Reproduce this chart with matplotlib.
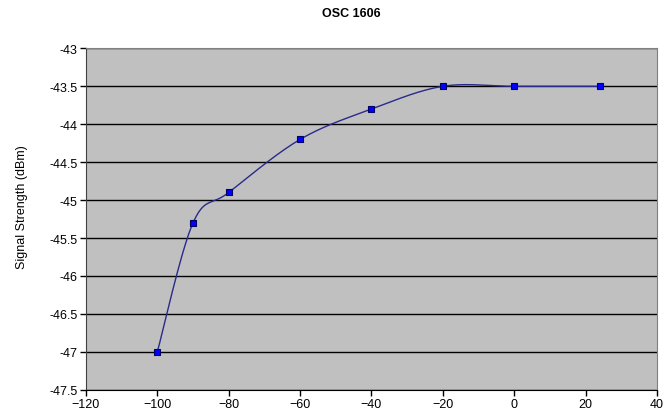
import numpy as np
import matplotlib
matplotlib.use("Agg")
import matplotlib.pyplot as plt

plt.rcParams['font.family'] = ['Liberation Sans', 'DejaVu Sans']

# measurements
offset = [-100, -90, -80, -60, -40, -20, 0, 24]
strength = [-47.0, -45.3, -44.9, -44.2, -43.8, -43.5, -43.5, -43.5]

x_ticks = [-120, -100, -80, -60, -40, -20, 0, 20, 40]
y_ticks = [-47.5, -47, -46.5, -46, -45.5, -45, -44.5, -44, -43.5, -43]


def smooth(xs, ys, n=40):
    # bezier smoothing like a spreadsheet "smoothed line"
    p = np.column_stack([xs, ys]).astype(float)
    out = []
    for i in range(len(p) - 1):
        p0 = p[i - 1] if i > 0 else p[i]
        p1 = p[i]
        p2 = p[i + 1]
        p3 = p[i + 2] if i + 2 < len(p) else p[i + 1]
        c1 = p1 + (p2 - p0) / 6.0
        c2 = p2 - (p3 - p1) / 6.0
        t = np.linspace(0, 1, n)[:, None]
        seg = ((1 - t) ** 3) * p1 + 3 * ((1 - t) ** 2) * t * c1 + 3 * (1 - t) * t ** 2 * c2 + t ** 3 * p2
        out.append(seg if i == 0 else seg[1:])
    seg = np.vstack(out)
    return seg[:, 0], seg[:, 1]


fig = plt.figure(figsize=(6.68, 4.14), dpi=100)
ax = fig.add_axes([0.1287, 0.0563, 0.8548, 0.8244])
ax.set_facecolor('#C0C0C0')

sx, sy = smooth(offset, strength)
ax.plot(sx, sy, color='#2A2A8C', lw=1.0, zorder=3)
ax.plot(offset, strength, ls='none', marker='s', ms=5, mfc='#0000FF',
        mec='#000060', mew=0.8, zorder=4)

ax.set_xlim(-120, 40)
ax.set_ylim(-47.5, -43)
ax.set_xticks(x_ticks)
ax.set_yticks(y_ticks)
ax.set_yticklabels(['%g' % v for v in y_ticks])
ax.yaxis.grid(True, color='black', lw=1.0)
ax.set_axisbelow(True)
ax.tick_params(axis='both', direction='out', length=4, width=1, labelsize=9, colors='black', pad=2)

ax.spines['left'].set_color('#404040')
ax.spines['bottom'].set_color('black')
ax.spines['top'].set_color('#808080')
ax.spines['right'].set_color('#808080')

fig.text(351 / 668, 1 - 14 / 414, 'OSC 1606', ha='center', va='center',
         fontsize=9, fontweight='bold')
fig.text(22 / 668, 1 - 207 / 414, 'Signal Strength (dBm)', rotation=90,
         ha='center', va='center', fontsize=9)

fig.savefig('out.png', dpi=100)
